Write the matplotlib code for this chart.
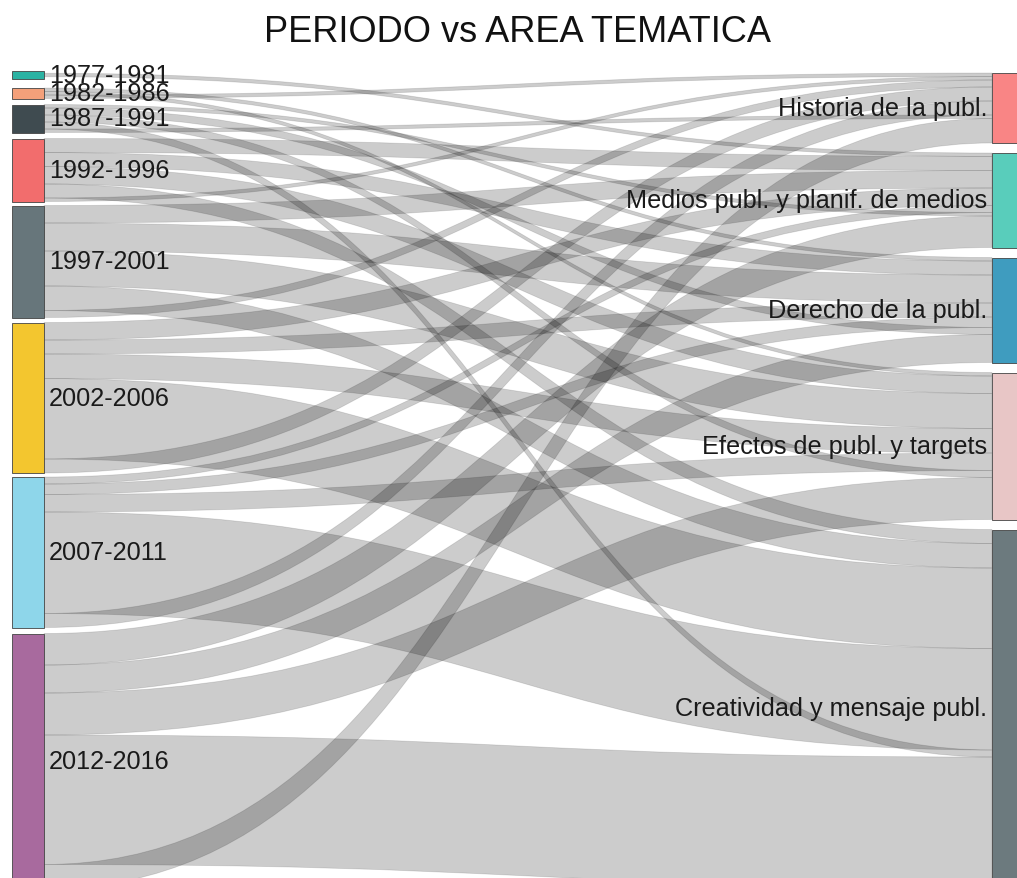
import matplotlib
matplotlib.use("Agg")
import matplotlib.pyplot as plt
from matplotlib.path import Path
from matplotlib.patches import PathPatch, Rectangle
import numpy as np

# ---------------- data ----------------
periods = ["1977-1981", "1982-1986", "1987-1991", "1992-1996",
           "1997-2001", "2002-2006", "2007-2011", "2012-2016"]
areas = ["Historia de la publ.", "Medios publ. y planif. de medios",
         "Derecho de la publ.", "Efectos de publ. y targets",
         "Creatividad y mensaje publ."]
period_colors = ["#2BB3A3", "#F4A07A", "#3F4B50", "#F26D6D",
                 "#67767B", "#F3C62F", "#8ED6EA", "#A86A9E"]
area_colors = ["#F98585", "#59CDBB", "#3F9CBF", "#E8C6C6", "#6C7A7E"]

# flows: one list per area, one value per period
hist_vals = [0, 1, 1, 1, 2, 4, 4, 7]
medios_vals = [1, 0, 1, 4, 5, 5, 2, 9]
derecho_vals = [0, 1, 2, 4, 8, 4, 3, 8]
efectos_vals = [0, 1, 2, 5, 10, 7, 5, 12]
creat_vals = [0, 0, 2, 4, 7, 23, 29, 37]

flows = np.array([hist_vals, medios_vals, derecho_vals,
                  efectos_vals, creat_vals], dtype=float).T

# stacking order of ribbons at each node (top -> bottom)
out_order = [1, 2, 3, 4, 0]
in_order = [0, 1, 3, 4, 5, 6, 2, 7]

# ---------------- layout ----------------
W, H = 1017, 879
fig = plt.figure(figsize=(W / 100, H / 100), dpi=100)
ax = fig.add_axes([0, 0, 1, 1])
ax.set_xlim(0, W)
ax.set_ylim(H, 0)
ax.axis("off")

scale = 3.5
min_node = 8
left_x, right_x, node_w = 12, 992, 32
left_top, right_top = 72, 74
left_gaps = [9, 6, 6, 4, 5, 4, 6]
right_gaps = [10, 10, 10, 10]

left_tot = flows.sum(axis=1)
right_tot = flows.sum(axis=0)

def stack(totals, top, gaps):
    pos = []
    y = top
    for k, t in enumerate(totals):
        h = max(t * scale, min_node)
        pos.append((y, y + h))
        y += h + (gaps[k] if k < len(gaps) else 0)
    return pos

lpos = stack(left_tot, left_top, left_gaps)
rpos = stack(right_tot, right_top, right_gaps)

# ribbon offsets
src_off = {}
for i in range(len(periods)):
    h = max(left_tot[i] * scale, min_node)
    y = lpos[i][0] + (h - left_tot[i] * scale) / 2
    for j in out_order:
        v = flows[i, j]
        src_off[(i, j)] = (y, y + v * scale)
        y += v * scale
tgt_off = {}
for j in range(len(areas)):
    h = max(right_tot[j] * scale, min_node)
    y = rpos[j][0] + (h - right_tot[j] * scale) / 2
    for i in in_order:
        v = flows[i, j]
        tgt_off[(i, j)] = (y, y + v * scale)
        y += v * scale

x0 = left_x + node_w
x1 = right_x
xm = (x0 + x1) / 2
for i in range(len(periods)):
    for j in range(len(areas)):
        if flows[i, j] <= 0:
            continue
        s0, s1 = src_off[(i, j)]
        t0, t1 = tgt_off[(i, j)]
        verts = [(x0, s0), (xm, s0), (xm, t0), (x1, t0),
                 (x1, t1), (xm, t1), (xm, s1), (x0, s1), (x0, s0)]
        codes = [Path.MOVETO, Path.CURVE4, Path.CURVE4, Path.CURVE4,
                 Path.LINETO, Path.CURVE4, Path.CURVE4, Path.CURVE4,
                 Path.CLOSEPOLY]
        ax.add_patch(PathPatch(Path(verts, codes), facecolor=(0, 0, 0, 0.2),
                               edgecolor=(0, 0, 0, 0.12), lw=0.6, zorder=1))

for i, name in enumerate(periods):
    y0, y1 = lpos[i]
    ax.add_patch(Rectangle((left_x, y0), node_w, y1 - y0,
                           facecolor=period_colors[i], edgecolor="#444444",
                           lw=0.6, zorder=2))
    ax.text(x0 + 5, (y0 + y1) / 2, name, ha="left", va="center",
            fontsize=18.2, family="Liberation Sans", color="#1a1a1a", zorder=3)

for j, name in enumerate(areas):
    y0, y1 = rpos[j]
    ax.add_patch(Rectangle((right_x, y0), node_w, y1 - y0,
                           facecolor=area_colors[j], edgecolor="#444444",
                           lw=0.6, zorder=2))
    ax.text(right_x - 5, (y0 + y1) / 2, name, ha="right", va="center",
            fontsize=18.2, family="Liberation Sans", color="#1a1a1a", zorder=3)

ax.text(517, 33, "PERIODO vs AREA TEMATICA", ha="center", va="center",
        fontsize=26, family="Liberation Sans", color="#111111")

fig.savefig("out.png", dpi=100)
